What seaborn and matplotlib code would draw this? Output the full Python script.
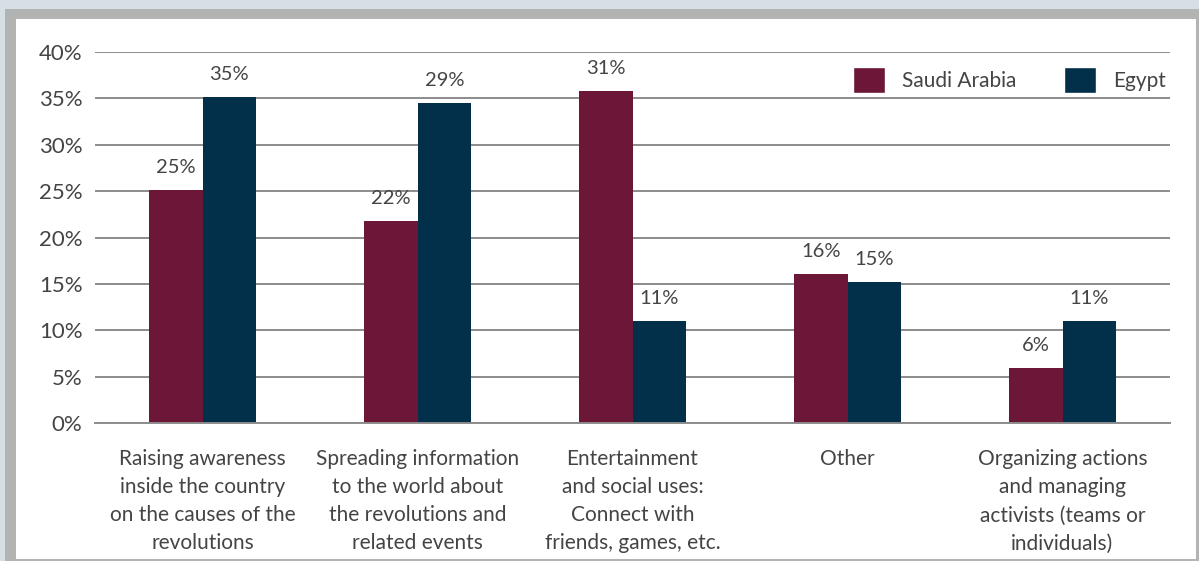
import matplotlib
matplotlib.use('Agg')
import matplotlib.pyplot as plt
from matplotlib.patches import Rectangle
from matplotlib.ticker import FixedLocator
import pandas as pd
import seaborn as sns

categories = [
    'Raising awareness\ninside the country\non the causes of the\nrevolutions',
    'Spreading information\nto the world about\nthe revolutions and\nrelated events',
    'Entertainment\nand social uses:\nConnect with\nfriends, games, etc.',
    'Other',
    'Organizing actions\nand managing\nactivists (teams or\nindividuals)',
]
countries = ['Saudi Arabia', 'Egypt']
# bar heights as drawn in the chart
saudi_heights = [25.1, 21.8, 35.8, 16.1, 5.9]
egypt_heights = [35.2, 34.5, 11.0, 15.2, 11.0]
# labels as printed above the bars
saudi_labels = ['25%', '22%', '31%', '16%', '6%']
egypt_labels = ['35%', '29%', '11%', '15%', '11%']
y_ticks = [0, 5, 10, 15, 20, 25, 30, 35, 40]

colors = {'Saudi Arabia': '#6c1737', 'Egypt': '#02304a'}
text_color = '#444444'
grid_color = '#8c8c8c'

df = pd.DataFrame({
    'category': categories * 2,
    'value': saudi_heights + egypt_heights,
    'country': ['Saudi Arabia'] * 5 + ['Egypt'] * 5,
})

sns.set_style('white')
plt.rcParams['font.family'] = ['Lato', 'DejaVu Sans']

fig = plt.figure(figsize=(11.99, 5.61), dpi=100)
fig.patch.set_facecolor('#d6e0e4')
W, H = 1199, 561
# grey frame and white panel
fig.patches.append(Rectangle((5 / W, 0), 1 - 5 / W, 1 - 9 / H, transform=fig.transFigure,
                             facecolor='#b2b4b3', edgecolor='none', zorder=-2))
fig.patches.append(Rectangle((16 / W, 2 / H), (1196 - 16) / W, (559 - 19) / H, transform=fig.transFigure,
                             facecolor='white', edgecolor='none', zorder=-1))

ax = fig.add_axes([95 / W, 1 - 423 / H, (1170 - 95) / W, (423 - 52) / H])
ax.set_facecolor('none')

sns.barplot(data=df, x='category', y='value', hue='country', order=categories,
            hue_order=countries, palette=colors, width=0.5, saturation=1,
            linewidth=0, ax=ax, legend=False, zorder=3)

for container, labels in zip(ax.containers, [saudi_labels, egypt_labels]):
    for bar, lab in zip(container, labels):
        ax.annotate(lab, (bar.get_x() + bar.get_width() / 2, bar.get_height()),
                    xytext=(0, 10), textcoords='offset points', ha='center', va='bottom',
                    fontsize=14.5, color=text_color)

ax.set_ylim(0, 40)
ax.set_xlim(-0.5, 4.5)
ax.set_yticks(y_ticks)
ax.set_yticklabels([f'{t}%' for t in y_ticks])
ax.yaxis.grid(True, color=grid_color, linewidth=1.4, zorder=0)
ax.set_axisbelow(True)
ax.set_xlabel('')
ax.set_ylabel('')

for s in ['top', 'right', 'left']:
    ax.spines[s].set_visible(False)
ax.spines['bottom'].set_color(grid_color)
ax.spines['bottom'].set_linewidth(1.4)
ax.spines['bottom'].set_zorder(4)

ax.tick_params(axis='y', length=0, pad=9, labelsize=16, labelcolor=text_color)
ax.tick_params(axis='x', which='major', length=0, pad=19, labelsize=15, labelcolor=text_color)
ax.xaxis.set_minor_locator(FixedLocator([-0.5, 0.5, 1.5, 2.5, 3.5, 4.5]))
ax.tick_params(axis='x', which='minor', length=7, width=1.4, color=grid_color, direction='out')

handles = [Rectangle((0, 0), 1, 1, facecolor=colors[c]) for c in countries]
ax.legend(handles, countries, loc='center right', bbox_to_anchor=(0.9963, 0.9245),
          ncol=2, frameon=False, fontsize=15, handlelength=1.55, handleheight=1.55,
          handletextpad=0.8, columnspacing=2.3, borderpad=0, borderaxespad=0,
          labelcolor=text_color)

fig.canvas.draw()
for lab in ax.get_xticklabels():
    lab.set_linespacing(1.5)

fig.savefig('out.png', dpi=100)
